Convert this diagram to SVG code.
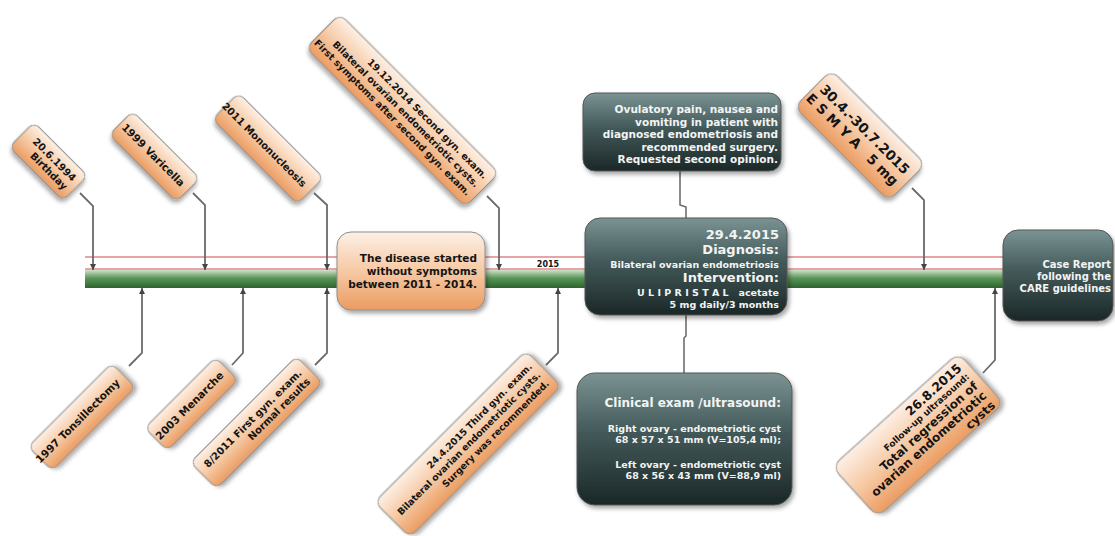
<svg xmlns="http://www.w3.org/2000/svg" width="1115" height="536" viewBox="0 0 1115 536">
<defs>
<linearGradient id="og" x1="0" y1="0" x2="0" y2="1">
<stop offset="0" stop-color="#fdf0e5"/>
<stop offset="0.5" stop-color="#f6c9a4"/>
<stop offset="1" stop-color="#eb9c61"/>
</linearGradient>
<linearGradient id="dg" x1="0" y1="0" x2="0" y2="1">
<stop offset="0" stop-color="#7b9393"/>
<stop offset="0.45" stop-color="#435959"/>
<stop offset="1" stop-color="#1b2727"/>
</linearGradient>
<linearGradient id="gg" x1="0" y1="0" x2="0" y2="1">
<stop offset="0" stop-color="#cfe2c8"/>
<stop offset="0.45" stop-color="#5a9558"/>
<stop offset="1" stop-color="#2c652d"/>
</linearGradient>
<filter id="sh" x="-20%" y="-20%" width="140%" height="150%">
<feDropShadow dx="2" dy="3" stdDeviation="2" flood-color="#000" flood-opacity="0.35"/>
</filter>
<marker id="ah" viewBox="0 0 6 6" refX="6" refY="3" markerWidth="6" markerHeight="6" markerUnits="userSpaceOnUse" orient="auto">
<path d="M0,0 L6,3 L0,6 z" fill="#444"/>
</marker>
<style>
.lbl{fill:url(#og);stroke:#8c8c8c;stroke-width:1;filter:url(#sh)}
.dark{fill:url(#dg);stroke:#555;stroke-width:1;filter:url(#sh)}
.t{font-family:"DejaVu Sans",Verdana,sans-serif;font-weight:bold;fill:#141414;text-anchor:end}
.w{font-family:"DejaVu Sans",Verdana,sans-serif;font-weight:bold;fill:#f2f4f4;text-anchor:end}
.c{fill:none;stroke:#6a6a6a;stroke-width:1.8;marker-end:url(#ah)}
.ln{fill:none;stroke:#666;stroke-width:1.5}
</style>
</defs>
<rect width="1115" height="536" fill="#fff"/>

<g id="timeline">
<rect x="85" y="270" width="918" height="18" fill="url(#gg)"/>
<line x1="85" y1="257" x2="1003" y2="257" stroke="#d0484c" stroke-width="1.2"/>
<line x1="85" y1="269" x2="1003" y2="269" stroke="#d0484c" stroke-width="1.2"/>
<text x="548" y="267" class="t" style="text-anchor:middle;font-size:8px">2015</text>
</g>

<g id="connectors">
<path class="c" d="M80,193 L93,206 L93,270"/>
<path class="c" d="M193,193 L205,205 L205,270"/>
<path class="c" d="M314,193 L327,205 L327,270"/>
<path class="c" d="M487,196 L499,208 L499,270"/>
<path class="c" d="M912,188 L924,200 L924,270"/>
<path class="c" d="M129,366 L142,353 L142,288"/>
<path class="c" d="M232,365 L243,353 L243,288"/>
<path class="c" d="M315,365 L327,353 L327,288"/>
<path class="c" d="M546,365 L558,353 L558,288"/>
<path class="c" d="M983,373 L995,360 L995,288"/>
<path class="ln" d="M680,171 L680,205 L686,207 L686,218"/>
<path class="ln" d="M686,315 L686,336 L684,338 L684,373"/>
</g>

<g id="birthday" transform="translate(48.5,161.5) rotate(45)">
<rect class="lbl" x="-38" y="-17.5" width="76" height="35" rx="7"/>
<text class="t" style="font-size:10px" x="31" y="-2">20.6.1994</text>
<text class="t" style="font-size:10px" x="31" y="10">Birthday</text>
</g>

<g id="varicella" transform="translate(154.5,156.5) rotate(45)">
<rect class="lbl" x="-47.5" y="-16.5" width="95" height="33" rx="7"/>
<text class="t" style="font-size:10.5px" x="40" y="3.5">1999 Varicella</text>
</g>

<g id="mononucleosis" transform="translate(268,148.5) rotate(45)">
<rect class="lbl" x="-60" y="-18.5" width="120" height="37" rx="7"/>
<text class="t" style="font-size:10px" x="52" y="3.5">2011 Mononucleosis</text>
</g>

<g id="second-gyn" transform="translate(402.5,110.5) rotate(45)">
<rect class="lbl" x="-112.5" y="-24" width="225" height="48" rx="8"/>
<text class="t" style="font-size:9.5px" x="106" y="-8.5">19.12.2014 Second gyn. exam.</text>
<text class="t" style="font-size:9.5px" x="106" y="3.5">Bilateral ovarian endometriotic cysts.</text>
<text class="t" style="font-size:9.5px" x="106" y="15.5">First symptoms after second gyn. exam.</text>
</g>

<g id="esmya" transform="translate(860,135.5) rotate(45)">
<rect class="lbl" x="-66.5" y="-26" width="133" height="52" rx="9"/>
<text class="t" style="font-size:13.5px" x="59" y="-3">30.4.-30.7.2015</text>
<text class="t" style="font-size:13.5px" x="59" y="13" xml:space="preserve">E S M Y A   5 mg</text>
</g>

<g id="tonsillectomy" transform="translate(82,417) rotate(-45)">
<rect class="lbl" x="-59" y="-17" width="118" height="34" rx="7"/>
<text class="t" style="font-size:10.5px" x="51" y="3.5">1997 Tonsillectomy</text>
</g>

<g id="menarche" transform="translate(191.5,404) rotate(-45)">
<rect class="lbl" x="-50" y="-16" width="100" height="32" rx="7"/>
<text class="t" style="font-size:10.5px" x="43" y="3.5">2003 Menarche</text>
</g>

<g id="first-gyn" transform="translate(256.5,422.5) rotate(-45)">
<rect class="lbl" x="-75" y="-18.5" width="150" height="37" rx="7"/>
<text class="t" style="font-size:10px" x="67" y="-2">8/2011 First gyn. exam.</text>
<text class="t" style="font-size:10px" x="67" y="10">Normal results</text>
</g>

<g id="third-gyn" transform="translate(468,444) rotate(-45)">
<rect class="lbl" x="-107" y="-25" width="214" height="50" rx="8"/>
<text class="t" style="font-size:9.3px" x="100" y="-8.5">24.4.2015 Third gyn. exam.</text>
<text class="t" style="font-size:9.3px" x="100" y="3.5">Bilateral ovarian endometriotic cysts.</text>
<text class="t" style="font-size:9.3px" x="100" y="15.5">Surgery was recommended.</text>
</g>

<g id="follow-up" transform="translate(918,435) rotate(-42)">
<rect class="lbl" x="-85" y="-34" width="170" height="68" rx="10"/>
<text class="t" style="font-size:12.5px" x="77" y="-19">26.8.2015</text>
<text class="t" style="font-size:9px" x="77" y="-8">Follow-up ultrasound:</text>
<text class="t" style="font-size:12px" x="77" y="5">Total regression of</text>
<text class="t" style="font-size:12px" x="77" y="18">ovarian endometriotic</text>
<text class="t" style="font-size:12px" x="77" y="31">cysts</text>
</g>

<g id="disease-box">
<rect class="lbl" x="337" y="232" width="148" height="78" rx="14"/>
<text class="t" style="font-size:10.5px" x="477" y="262">The disease started</text>
<text class="t" style="font-size:10.5px" x="477" y="275">without symptoms</text>
<text class="t" style="font-size:10.5px" x="477" y="288">between 2011 - 2014.</text>
</g>

<g id="symptoms-box">
<rect class="dark" x="583" y="93" width="198" height="78" rx="12"/>
<text class="w" style="font-size:10.5px" x="778" y="113">Ovulatory pain, nausea and</text>
<text class="w" style="font-size:10.5px" x="778" y="126">vomiting in patient with</text>
<text class="w" style="font-size:10.5px" x="778" y="138">diagnosed endometriosis and</text>
<text class="w" style="font-size:10.5px" x="778" y="151">recommended surgery.</text>
<text class="w" style="font-size:10.5px" x="778" y="163">Requested second opinion.</text>
</g>

<g id="diagnosis-box">
<rect class="dark" x="585" y="218" width="202" height="97" rx="15"/>
<text class="w" style="font-size:13px" x="779" y="239">29.4.2015</text>
<text class="w" style="font-size:13px" x="779" y="254">Diagnosis:</text>
<text class="w" style="font-size:9.5px" x="779" y="267.5">Bilateral ovarian endometriosis</text>
<text class="w" style="font-size:13px" x="779" y="282">Intervention:</text>
<text class="w" style="font-size:9.5px" x="779" y="295.5" xml:space="preserve">U L I P R I S T A L   acetate</text>
<text class="w" style="font-size:9.5px" x="779" y="307.5">5 mg daily/3 months</text>
</g>

<g id="clinical-box">
<rect class="dark" x="577" y="373" width="215" height="132" rx="18"/>
<text class="w" style="font-size:12px" x="781" y="407">Clinical exam /ultrasound:</text>
<text class="w" style="font-size:9.5px" x="781" y="431.5">Right ovary - endometriotic cyst</text>
<text class="w" style="font-size:9.5px" x="781" y="443">68 x 57 x 51 mm (V=105,4 ml);</text>
<text class="w" style="font-size:9.5px" x="781" y="467.5">Left ovary - endometriotic cyst</text>
<text class="w" style="font-size:9.5px" x="781" y="479">68 x 56 x 43 mm (V=88,9 ml)</text>
</g>

<g id="care-box">
<rect class="dark" x="1003" y="230" width="110" height="91" rx="15"/>
<text class="w" style="font-size:10px" x="1111" y="268">Case Report</text>
<text class="w" style="font-size:10px" x="1111" y="280">following the</text>
<text class="w" style="font-size:10px" x="1111" y="292">CARE guidelines</text>
</g>
</svg>
